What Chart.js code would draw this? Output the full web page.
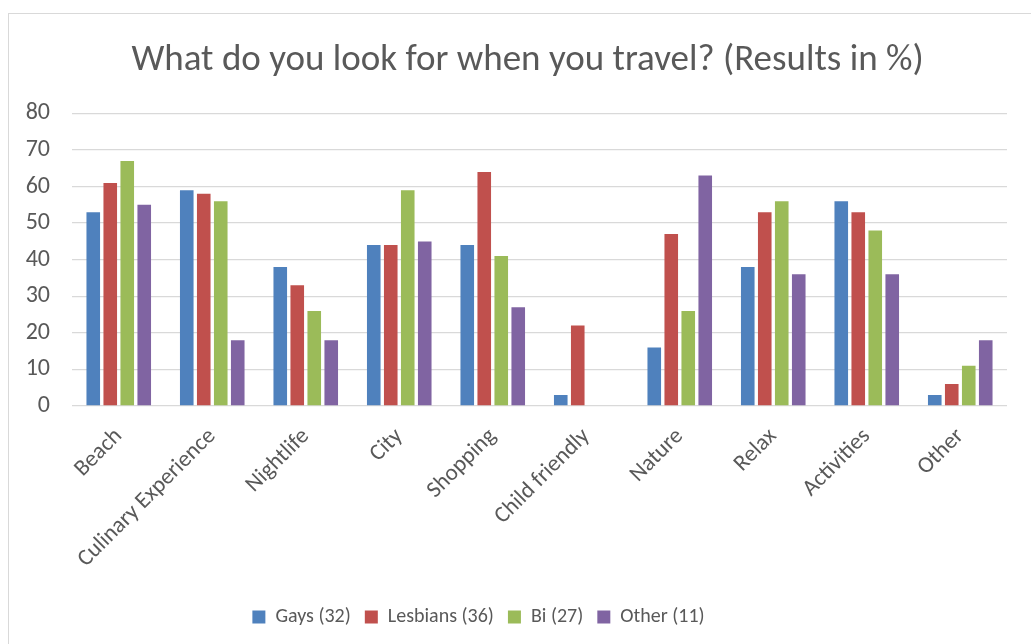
<!DOCTYPE html>
<html>
<head>
<meta charset="utf-8">
<script src="https://cdn.jsdelivr.net/npm/chart.js@4/dist/chart.umd.min.js"></script>
<style>
  html, body { margin: 0; padding: 0; background: #fff; overflow: hidden; }
  #wrap { position: relative; width: 1031px; height: 644px; }
  #frame { position: absolute; left: 8px; top: 13px; width: 1040px; height: 660px;
           border: 1px solid #d9d9d9; box-sizing: border-box; pointer-events: none; }
</style>
</head>
<body>
<div id="wrap">
  <canvas id="myChart" width="1031" height="644"></canvas>
  <div id="frame"></div>
</div>
<script>
var categories = ["Beach", "Culinary Experience", "Nightlife", "City", "Shopping",
                  "Child friendly", "Nature", "Relax", "Activities", "Other"];
var gays     = [53, 59, 38, 44, 44, 3, 16, 38, 56, 3];
var lesbians = [61, 58, 33, 44, 64, 22, 47, 53, 53, 6];
var bi       = [67, 56, 26, 59, 41, 0, 26, 56, 48, 11];
var other    = [55, 18, 18, 45, 27, 0, 63, 36, 36, 18];
var seriesNames = ["Gays (32)", "Lesbians (36)", "Bi (27)", "Other (11)"];
var yTicks = [0, 10, 20, 30, 40, 50, 60, 70, 80];

var colors = ["#4f81bd", "#c0504d", "#9bbb59", "#8064a2"];
var textColor = "#595959";
var fontFamily = "Carlito, 'Open Sans', sans-serif";

// nudge the title and legend sideways after layout
var shiftBlocks = {
    id: 'shiftBlocks',
    afterLayout: function (chart) {
        if (chart.titleBlock) { chart.titleBlock.left += 24; chart.titleBlock.right += 24; }
        if (chart.legend) { chart.legend.left -= 25; chart.legend.right -= 25; }
    }
};

function renderChart() {
    var ctx = document.getElementById("myChart").getContext('2d');
    var values = [gays, lesbians, bi, other];
    var datasets = values.map(function (v, i) {
        return {
            label: seriesNames[i],
            data: v,
            backgroundColor: colors[i],
            borderWidth: 0,
            categoryPercentage: 0.727,
            barPercentage: 0.8
        };
    });

    new Chart(ctx, {
        type: 'bar',
        data: { labels: categories, datasets: datasets },
        plugins: [shiftBlocks],
        options: {
            responsive: false,
            animation: false,
            layout: { padding: { left: 0, right: 24, top: 0, bottom: 7 } },
            plugins: {
                title: {
                    display: true,
                    text: "What do you look for when you travel? (Results in %)",
                    color: textColor,
                    font: { family: fontFamily, size: 37, weight: 'normal' },
                    padding: { top: 39, bottom: 30 }
                },
                legend: {
                    position: 'bottom',
                    labels: {
                        color: textColor,
                        font: { family: fontFamily, size: 20 },
                        boxWidth: 13,
                        boxHeight: 13,
                        padding: 14
                    }
                },
                tooltip: { enabled: false }
            },
            scales: {
                x: {
                    grid: { display: false },
                    border: { display: false },
                    ticks: {
                        color: textColor,
                        font: { family: fontFamily, size: 23 },
                        minRotation: 45,
                        maxRotation: 45,
                        padding: 9
                    },
                    afterFit: function (scale) { scale.height = 187; }
                },
                y: {
                    min: 0,
                    max: 80,
                    afterBuildTicks: function (scale) {
                        scale.ticks = yTicks.map(function (t) { return { value: t }; });
                    },
                    grid: { color: "#d9d9d9", lineWidth: 1.3, drawTicks: false },
                    border: { display: false },
                    ticks: {
                        color: textColor,
                        font: { family: fontFamily, size: 24 },
                        padding: 22
                    },
                    afterFit: function (scale) { scale.width = 72; }
                }
            }
        }
    });
}

renderChart();
</script>
</body>
</html>
